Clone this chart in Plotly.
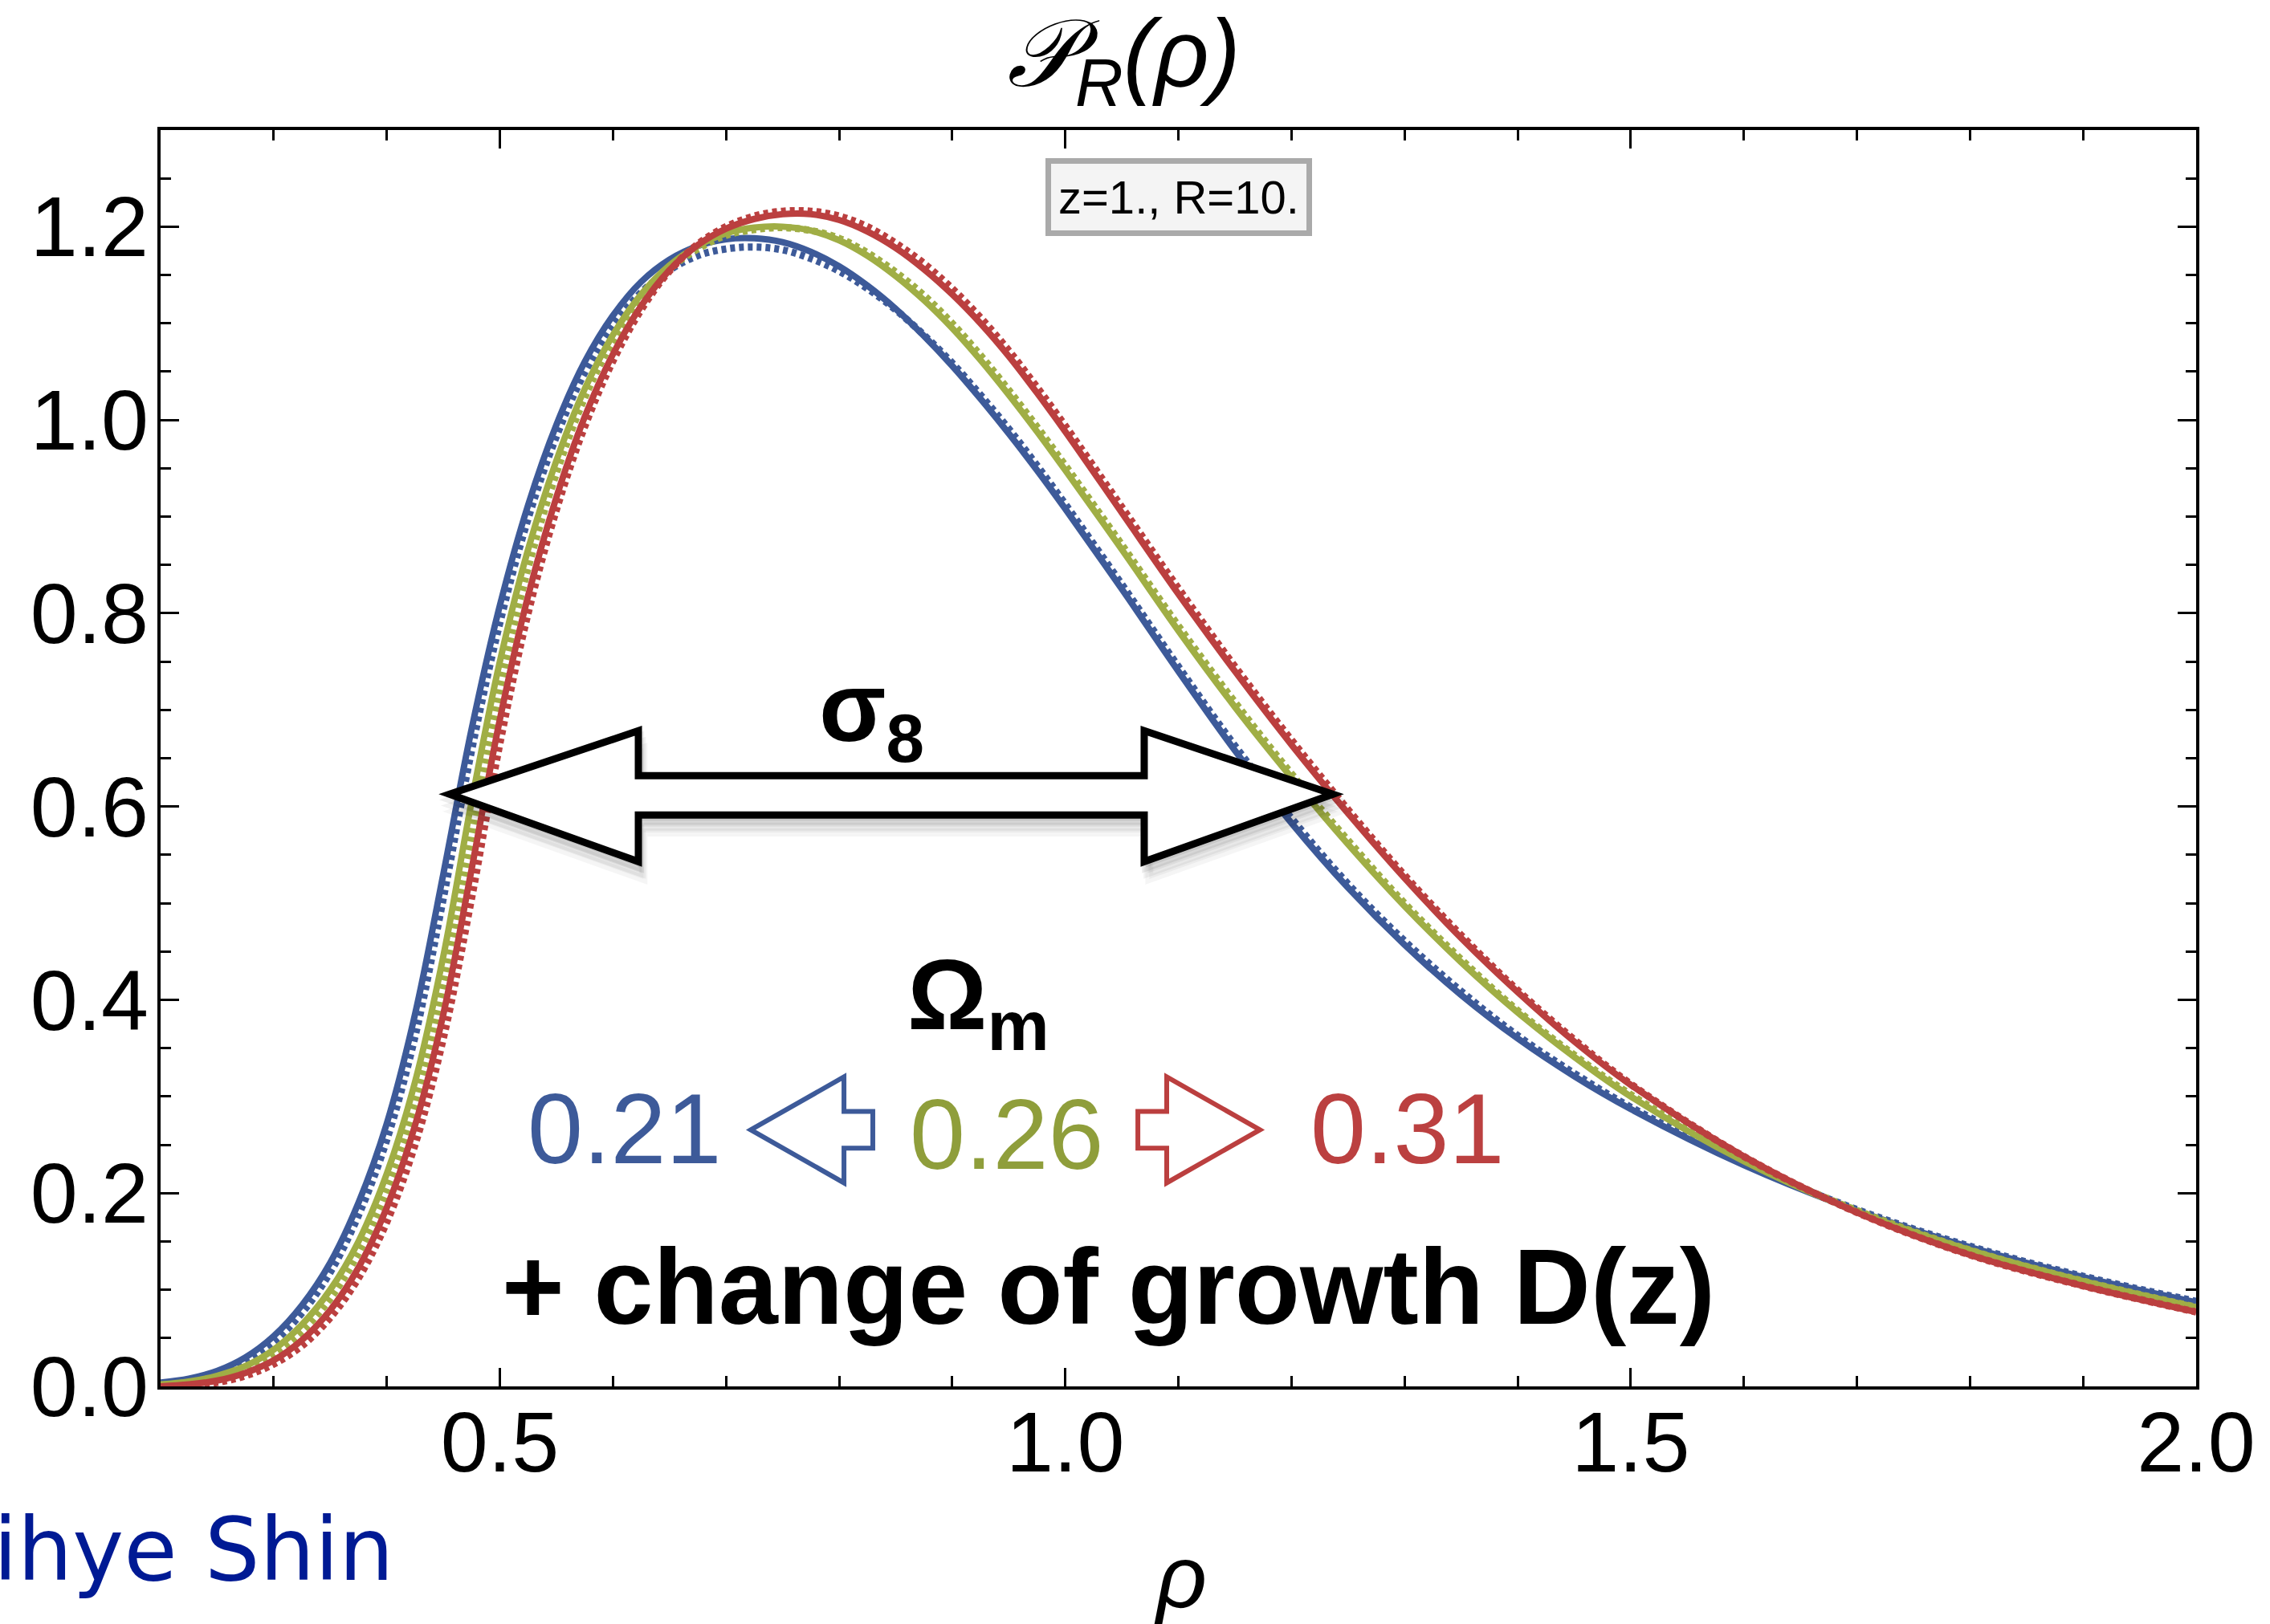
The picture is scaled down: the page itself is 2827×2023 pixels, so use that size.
import plotly.graph_objects as go

# density grid (finer through the rise and the peak)
RHO = [0.200, 0.225, 0.250, 0.275, 0.300, 0.325, 0.350, 0.375, 0.400, 0.425, 0.450,
       0.475, 0.500, 0.525, 0.550, 0.575, 0.600, 0.625, 0.650, 0.675, 0.700, 0.725,
       0.750, 0.775, 0.800, 0.825, 0.850, 0.875, 0.900, 0.925, 0.950, 0.975, 1.000,
       1.05, 1.10, 1.15, 1.20, 1.25, 1.30, 1.35, 1.40, 1.45, 1.50,
       1.60, 1.70, 1.80, 1.90, 2.00]

# Omega_m = 0.21 : prediction (solid) and measured (dotted)
P_021_THEORY = [0.004, 0.008, 0.016, 0.030, 0.052, 0.084, 0.128, 0.190, 0.272, 0.385, 0.530,
                0.680, 0.808, 0.912, 0.995, 1.060, 1.108, 1.143, 1.166, 1.180, 1.187, 1.188,
                1.184, 1.174, 1.159, 1.139, 1.115, 1.087, 1.056, 1.022, 0.986, 0.948, 0.908,
                0.825, 0.740, 0.658, 0.583, 0.516, 0.457, 0.405, 0.360, 0.321, 0.287,
                0.229, 0.182, 0.144, 0.113, 0.087]
P_021_SIM = [0.002, 0.006, 0.013, 0.026, 0.046, 0.076, 0.118, 0.177, 0.255, 0.362, 0.505,
             0.658, 0.790, 0.898, 0.983, 1.049, 1.097, 1.132, 1.155, 1.170, 1.177, 1.179,
             1.176, 1.167, 1.154, 1.136, 1.114, 1.088, 1.059, 1.026, 0.991, 0.953, 0.913,
             0.830, 0.745, 0.663, 0.588, 0.520, 0.461, 0.409, 0.363, 0.324, 0.289,
             0.231, 0.183, 0.145, 0.114, 0.088]

# Omega_m = 0.26
P_026_THEORY = [0.002, 0.005, 0.011, 0.021, 0.038, 0.064, 0.100, 0.150, 0.220, 0.315, 0.445,
                0.605, 0.750, 0.866, 0.958, 1.032, 1.088, 1.130, 1.160, 1.180, 1.193, 1.199,
                1.200, 1.196, 1.186, 1.170, 1.149, 1.124, 1.095, 1.062, 1.026, 0.988, 0.948,
                0.866, 0.782, 0.703, 0.630, 0.561, 0.497, 0.439, 0.387, 0.341, 0.300,
                0.233, 0.181, 0.141, 0.109, 0.082]
P_026_SIM = [0.001, 0.004, 0.009, 0.018, 0.033, 0.057, 0.091, 0.138, 0.203, 0.292, 0.415,
             0.570, 0.722, 0.847, 0.945, 1.023, 1.082, 1.125, 1.156, 1.177, 1.191, 1.197,
             1.199, 1.196, 1.188, 1.173, 1.153, 1.129, 1.100, 1.067, 1.031, 0.993, 0.953,
             0.871, 0.787, 0.708, 0.634, 0.565, 0.500, 0.442, 0.389, 0.343, 0.302,
             0.234, 0.182, 0.141, 0.109, 0.082]

# Omega_m = 0.31
P_031_THEORY = [0.000, 0.002, 0.006, 0.014, 0.027, 0.048, 0.079, 0.123, 0.185, 0.270, 0.385,
                0.535, 0.690, 0.818, 0.920, 1.003, 1.068, 1.118, 1.155, 1.181, 1.198, 1.208,
                1.213, 1.213, 1.207, 1.195, 1.178, 1.156, 1.130, 1.100, 1.066, 1.028, 0.988,
                0.904, 0.820, 0.740, 0.664, 0.593, 0.526, 0.464, 0.408, 0.357, 0.312,
                0.238, 0.180, 0.136, 0.104, 0.077]
P_031_SIM = [-0.002, 0.000, 0.004, 0.011, 0.023, 0.042, 0.071, 0.112, 0.170, 0.250, 0.360,
             0.505, 0.665, 0.800, 0.907, 0.993, 1.061, 1.114, 1.154, 1.182, 1.200, 1.211,
             1.216, 1.216, 1.211, 1.200, 1.183, 1.162, 1.136, 1.106, 1.072, 1.034, 0.994,
             0.910, 0.826, 0.745, 0.669, 0.597, 0.529, 0.467, 0.410, 0.359, 0.313,
             0.238, 0.180, 0.136, 0.104, 0.077]

OMEGA_LABELS = ["0.21", "0.26", "0.31"]
COLORS = ["#3d5a99", "#a0ae45", "#bb3f3f"]
TEXT_COLORS = ["#3d5a99", "#8f9e3b", "#bb4040"]

SANS = "Liberation Sans, Arial, sans-serif"

fig = go.Figure()

series = [(P_021_THEORY, P_021_SIM), (P_026_THEORY, P_026_SIM), (P_031_THEORY, P_031_SIM)]
for (theory, sim), color, lab in zip(series, COLORS, OMEGA_LABELS):
    fig.add_trace(go.Scatter(x=RHO, y=theory, mode="lines", name=lab,
                             line=dict(color=color, width=8, shape="spline", smoothing=1.0),
                             showlegend=False))
    fig.add_trace(go.Scatter(x=RHO, y=sim, mode="lines", name=lab + " sim",
                             line=dict(color=color, width=9, dash="6px,5px", shape="spline", smoothing=1.0),
                             showlegend=False, hoverinfo="skip"))


def poly_path(pts):
    return "M " + " L ".join(f"{x},{y}" for x, y in pts) + " Z"


# double-headed sigma_8 arrow (data units: rho, P)
big_arrow = [(0.4556, 0.6128), (0.6225, 0.6784), (0.6225, 0.6319), (1.0698, 0.6319),
             (1.0698, 0.6784), (1.2367, 0.6128), (1.0698, 0.5430), (1.0698, 0.5912),
             (0.6225, 0.5912), (0.6225, 0.5430)]

shapes = []
# soft drop shadow
for k, alpha in enumerate([0.04, 0.05, 0.07]):
    dx = 0.0015 * (3 - k)
    dy = -0.006 * (3 - k)
    shadow = [(x + dx, y + dy) for x, y in big_arrow]
    shapes.append(dict(type="path", xref="x", yref="y", path=poly_path(shadow),
                       fillcolor=f"rgba(0,0,0,{alpha})", line=dict(width=10, color=f"rgba(0,0,0,{alpha})"),
                       layer="above"))
shapes.append(dict(type="path", xref="x", yref="y", path=poly_path(big_arrow),
                   fillcolor="white", line=dict(width=9, color="black"), layer="above"))

# small Omega_m arrows
left_arrow = [(0.7219, 0.2655), (0.8043, 0.3203), (0.8043, 0.2846), (0.8298, 0.2846),
              (0.8298, 0.2464), (0.8043, 0.2464), (0.8043, 0.2106)]
right_arrow = [(1.1721, 0.2655), (1.0897, 0.3203), (1.0897, 0.2846), (1.0642, 0.2846),
               (1.0642, 0.2464), (1.0897, 0.2464), (1.0897, 0.2106)]
shapes.append(dict(type="path", xref="x", yref="y", path=poly_path(left_arrow),
                   fillcolor="white", line=dict(width=6, color=COLORS[0]), layer="above"))
shapes.append(dict(type="path", xref="x", yref="y", path=poly_path(right_arrow),
                   fillcolor="white", line=dict(width=6, color=COLORS[2]), layer="above"))

annotations = [
    dict(text="<i>𝒫<sub>R</sub>(ρ)</i>", xref="paper", yref="paper", x=0.473, y=1.0556,
         showarrow=False, font=dict(family=SANS, size=118, color="black"),
         xanchor="center", yanchor="middle"),
    dict(text="z=1., R=10.", xref="paper", yref="paper", x=0.5002, y=0.9466,
         showarrow=False, font=dict(family=SANS, size=58, color="black"),
         bgcolor="#f4f4f4", bordercolor="#aaaaaa", borderwidth=7, borderpad=9,
         xanchor="center", yanchor="middle"),
    dict(text="<b>σ<sub>8</sub></b>", xref="x", yref="y", x=0.8284, y=0.695,
         showarrow=False, font=dict(family=SANS, size=122, color="black"),
         xanchor="center", yanchor="middle"),
    dict(text="<b>Ω<sub>m</sub></b>", xref="x", yref="y", x=0.9229, y=0.398,
         showarrow=False, font=dict(family=SANS, size=124, color="black"),
         xanchor="center", yanchor="middle"),
    dict(text="<b>+ change of growth D(z)</b>", xref="x", yref="y", x=1.0379, y=0.103,
         showarrow=False, font=dict(family=SANS, size=133, color="black"),
         xanchor="center", yanchor="middle"),
    dict(text="ρ", xref="paper", yref="paper", x=0.501, y=-0.151,
         showarrow=False, font=dict(family=SANS, size=110, color="black", style="italic"),
         xanchor="center", yanchor="middle"),
    dict(text="Jihye Shin", xref="paper", yref="paper", x=0.1152, y=-0.130,
         showarrow=False, font=dict(family="DejaVu Sans", size=108, color="#001a94"),
         xanchor="right", yanchor="middle"),
]
for lab, color, xpos, ypos in zip(OMEGA_LABELS, TEXT_COLORS, [0.6104, 0.9477, 1.3027], [0.2663, 0.2605, 0.2663]):
    annotations.append(dict(text=lab, xref="x", yref="y", x=xpos, y=ypos, showarrow=False,
                            font=dict(family=SANS, size=124, color=color),
                            xanchor="center", yanchor="middle"))

axis_common = dict(
    ticks="inside", ticklen=23, tickwidth=3, tickcolor="black",
    showline=True, linewidth=3.5, linecolor="black", mirror="ticks",
    showgrid=False, zeroline=False,
    tickfont=dict(family=SANS, size=106, color="black"),
)

fig.update_layout(
    width=2827, height=2023,
    margin=dict(l=200, r=92, t=162, b=296),
    paper_bgcolor="white", plot_bgcolor="white",
    xaxis=dict(range=[0.2, 2.0], tickmode="linear", tick0=0.5, dtick=0.5, tickformat=".1f",
               minor=dict(ticks="inside", ticklen=13, tickwidth=3, tickcolor="black", dtick=0.1, tick0=0.0),
               ticklabelstandoff=-25, **axis_common),
    yaxis=dict(range=[0, 1.3], tickmode="linear", tick0=0, dtick=0.2, tickformat=".1f",
               minor=dict(ticks="inside", ticklen=13, tickwidth=3, tickcolor="black", dtick=0.05, tick0=0.0),
               ticklabelstandoff=-10, **axis_common),
    shapes=shapes,
    annotations=annotations,
    showlegend=False,
)

fig.write_html("out.html")
